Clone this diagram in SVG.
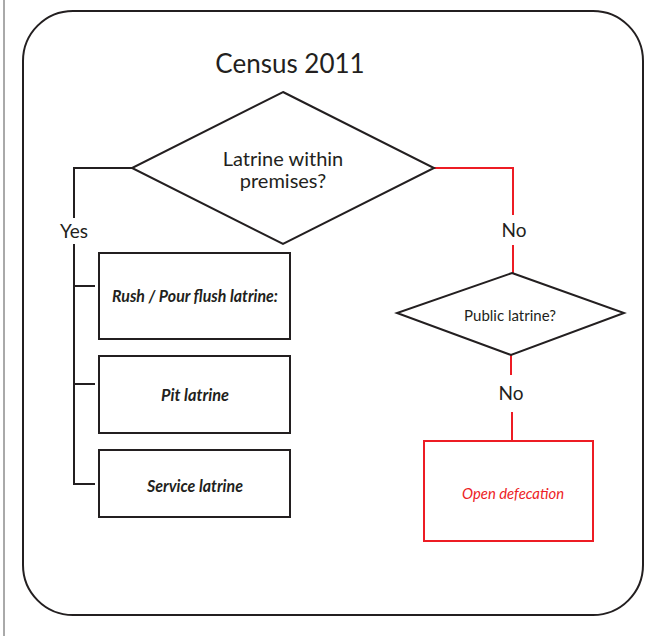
<svg xmlns="http://www.w3.org/2000/svg" width="658" height="636" viewBox="0 0 658 636">
<style>
.k{fill:none;stroke:#231f20;stroke-width:2}
.r{fill:none;stroke:#ed1c24;stroke-width:2}
.t{font-family:Lato,"Open Sans",sans-serif;fill:#231f20;text-anchor:middle}
.b{font-family:Lato,"Open Sans",sans-serif;font-weight:bold;font-style:italic;fill:#231f20;text-anchor:middle;font-size:17px}
</style>
<rect width="658" height="636" fill="#fff"/>
<line x1="4" y1="0" x2="4" y2="636" stroke="#555" stroke-width="1"/>
<rect x="23" y="11" width="620" height="604" rx="50" ry="50" class="k" stroke-width="2.5"/>
<text class="t" x="290" y="73" font-size="26">Census 2011</text>
<g id="connectors">
<polyline class="k" points="132,168 74,168 74,218"/>
<polyline class="k" points="74,244 74,484 95,484"/>
<line class="k" x1="74" y1="286" x2="95" y2="286"/>
<line class="k" x1="74" y1="384" x2="95" y2="384"/>
<text class="t" x="74" y="238" font-size="19">Yes</text>
<polyline class="r" points="434,168 513,168 513,215"/>
<line class="r" x1="513" y1="245" x2="513" y2="273"/>
<text class="t" x="514" y="237" font-size="19">No</text>
<line class="r" x1="511" y1="355" x2="511" y2="375"/>
<line class="r" x1="512" y1="412" x2="512" y2="441"/>
<text class="t" x="511" y="400" font-size="19">No</text>
</g>
<g id="q1">
<polygon class="k" points="283,92 434,168 283,244 132,168"/>
<text class="t" x="283" y="166" font-size="20">Latrine within</text>
<text class="t" x="283" y="188" font-size="20">premises?</text>
</g>
<g id="q2">
<polygon class="k" points="512,273 624,313 511,355 397,313"/>
<text class="t" x="510" y="321" font-size="15">Public latrine?</text>
</g>
<g id="flush">
<rect class="k" x="99" y="253" width="191" height="86"/>
<text class="b" x="195" y="302" textLength="166" lengthAdjust="spacingAndGlyphs">Rush / Pour flush latrine:</text>
</g>
<g id="pit">
<rect class="k" x="99" y="356" width="191" height="77"/>
<text class="b" x="195" y="401" textLength="68" lengthAdjust="spacingAndGlyphs">Pit latrine</text>
</g>
<g id="service">
<rect class="k" x="99" y="450" width="191" height="67"/>
<text class="b" x="195" y="492" textLength="96" lengthAdjust="spacingAndGlyphs">Service latrine</text>
</g>
<g id="open">
<rect class="r" x="424" y="441" width="169" height="100"/>
<text class="t" x="513" y="499" font-size="16" font-style="italic" style="fill:#ed1c24" textLength="102" lengthAdjust="spacingAndGlyphs">Open defecation</text>
</g>
</svg>
